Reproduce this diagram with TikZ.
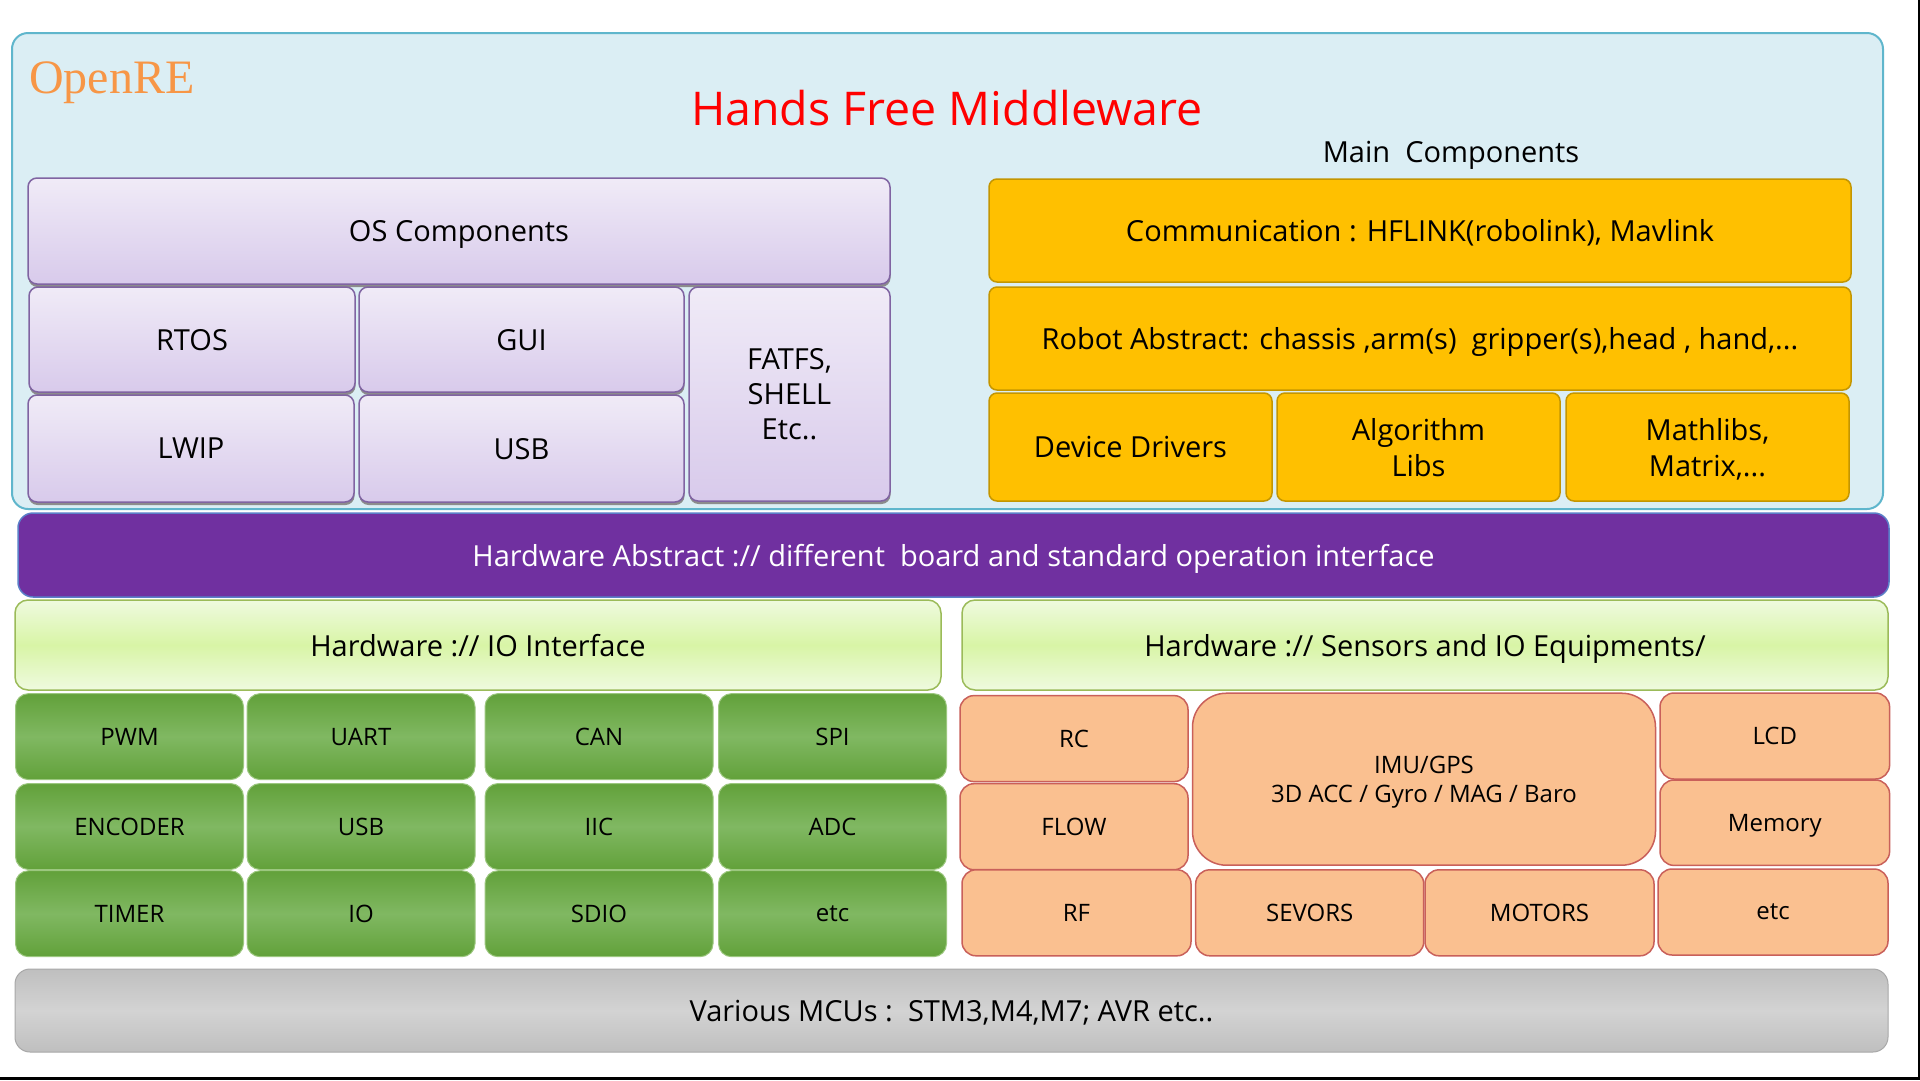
\documentclass[tikz,border=0pt]{standalone}
\usepackage{fontspec}
\setmainfont{Open Sans}
\newfontfamily\serifRE{Liberation Serif}
\usetikzlibrary{shadows}
\definecolor{mwfill}{HTML}{DBEEF4}
\definecolor{mwline}{HTML}{5FB6CC}
\definecolor{openre}{HTML}{F79646}
\definecolor{ostop}{HTML}{F0EBF7}
\definecolor{osbot}{HTML}{D8CAEB}
\definecolor{osline}{HTML}{8064A2}
\definecolor{gold}{HTML}{FFC000}
\definecolor{goldline}{HTML}{C49600}
\definecolor{hapurple}{HTML}{7030A0}
\definecolor{haline}{HTML}{5A7FC8}
\definecolor{lgedge}{HTML}{EFFADF}
\definecolor{lgmid}{HTML}{D8F5A6}
\definecolor{lgline}{HTML}{9BBB59}
\definecolor{gdark}{HTML}{62A13A}
\definecolor{glight}{HTML}{80B862}
\definecolor{gline}{HTML}{9CC77F}
\definecolor{ofill}{HTML}{FAC090}
\definecolor{oline}{HTML}{C9605A}
\definecolor{grayedge}{HTML}{BFBFBF}
\definecolor{graymid}{HTML}{D3D3D3}
\definecolor{grayline}{HTML}{A8A8A8}
\newcommand\fz[2]{\fontsize{#1}{#2}\selectfont}
\tikzset{
  blk/.style={align=center, inner sep=0pt, line width=1.5pt, text=black, text depth=0pt},
  osbox/.style={blk, rounded corners=9pt, draw=osline, top color=ostop, bottom color=osbot,
    drop shadow={shadow xshift=0.5pt, shadow yshift=-3pt, fill=black!45, opacity=1},
    font=\fz{29}{35}},
  goldbox/.style={blk, rounded corners=8pt, draw=goldline, fill=gold, font=\fz{29}{36}},
  hwhead/.style={blk, rounded corners=13pt, draw=lgline, top color=lgedge, bottom color=lgedge,
    middle color=lgmid, font=\fz{29}{35}},
  iocell/.style={blk, rounded corners=13pt, draw=gline, line width=1pt, top color=gdark,
    bottom color=gdark, middle color=glight, font=\fz{24}{29},
    minimum width=228pt, minimum height=86pt},
  sencell/.style={blk, rounded corners=14pt, draw=oline, fill=ofill, font=\fz{24}{29},
    minimum height=86pt},
}
\begin{document}
\begin{tikzpicture}[x=1pt, y=-1pt]
\useasboundingbox (0,0) rectangle (1920,1080);
\fill[white] (0,0) rectangle (1920,1080);

% middleware container
\node[draw=mwline, fill=mwfill, rounded corners=16pt, line width=2pt, inner sep=0pt,
  minimum width=1871pt, minimum height=476pt] (mw) at (947.5,271) {};
\node[anchor=base west, inner sep=0pt, text=openre, font=\serifRE\fz{48}{48}] (openre) at (29,93) {OpenRE};
\node[anchor=base, inner sep=0pt, text=red, font=\fz{46.5}{47}] (title) at (947,125.5) {Hands Free Middleware};
\node[anchor=base, inner sep=0pt, font=\fz{29}{29}] (mainc) at (1451,162) {Main\ \ Components};

% OS components
\node[osbox, minimum width=862pt, minimum height=106pt] (os) at (459,231) {OS Components};
\node[osbox, minimum width=326pt, minimum height=105pt] (rtos) at (192,339.5) {RTOS};
\node[osbox, minimum width=325pt, minimum height=105pt] (gui) at (521.5,339.5) {GUI};
\node[osbox, minimum width=326pt, minimum height=107pt] (lwip) at (191,448.5) {LWIP};
\node[osbox, minimum width=325pt, minimum height=107pt] (usbos) at (521.5,448.5) {USB};
\node[osbox, minimum width=201pt, minimum height=214pt] (fatfs) at (789.5,394) {FATFS,\\SHELL\\Etc..};

% main components
\node[goldbox, minimum width=862pt, minimum height=103pt] (comm) at (1420,230.5) {Communication : HFLINK(robolink), Mavlink};
\node[goldbox, minimum width=862pt, minimum height=103pt] (robot) at (1420,338.5) {Robot Abstract: chassis ,arm(s)\ \ gripper(s),head , hand,...};
\node[goldbox, minimum width=283pt, minimum height=108pt] (dev) at (1130.5,447) {Device Drivers};
\node[goldbox, minimum width=283pt, minimum height=108pt] (algo) at (1418.5,447) {Algorithm\\Libs};
\node[goldbox, minimum width=283pt, minimum height=108pt] (math) at (1707.5,447) {Mathlibs,\\Matrix,...};

% hardware abstract
\node[blk, rounded corners=15pt, draw=haline, fill=hapurple, text=white, font=\fz{29}{35},
  minimum width=1871pt, minimum height=84pt] (ha) at (953.5,555) {Hardware Abstract :// different\ \ board and standard operation interface};

% hardware headers
\node[hwhead, minimum width=926pt, minimum height=90pt] (io) at (478,645) {Hardware :// IO Interface};
\node[hwhead, minimum width=926pt, minimum height=90pt] (sens) at (1425,645) {Hardware :// Sensors and IO Equipments/};

% IO cells
\node[iocell] (pwm) at (129.5,736.6) {PWM};
\node[iocell] (uart) at (361,736.6) {UART};
\node[iocell] (can) at (599,736.6) {CAN};
\node[iocell] (spi) at (832.5,736.6) {SPI};
\node[iocell] (enc) at (129.5,826.5) {ENCODER};
\node[iocell] (usbio) at (361,826.5) {USB};
\node[iocell] (iic) at (599,826.5) {IIC};
\node[iocell] (adc) at (832.5,826.5) {ADC};
\node[iocell] (timer) at (129.5,913.7) {TIMER};
\node[iocell] (ioc) at (361,913.7) {IO};
\node[iocell] (sdio) at (599,913.7) {SDIO};
\node[iocell] (etcio) at (832.5,913.7) {etc};

% sensor cells
\node[sencell, minimum width=228pt] (rc) at (1074,738.6) {RC};
\node[sencell, minimum width=228pt] (flow) at (1074,826.7) {FLOW};
\node[sencell, rounded corners=34pt, minimum width=463pt, minimum height=172pt] (imu) at (1424,779.2) {IMU/GPS\\3D ACC / Gyro / MAG / Baro};
\node[sencell, minimum width=229.6pt] (lcd) at (1774.8,736) {LCD};
\node[sencell, minimum width=229.6pt, minimum height=85.4pt] (mem) at (1774.8,822.7) {Memory};
\node[sencell, minimum width=229pt] (rf) at (1076.5,912.8) {RF};
\node[sencell, minimum width=228pt] (sev) at (1309.7,912.8) {SEVORS};
\node[sencell, minimum width=229pt] (mot) at (1539.5,912.8) {MOTORS};
\node[sencell, minimum width=230pt] (etcs) at (1773,912) {etc};

% MCU bar
\node[blk, rounded corners=15pt, draw=grayline, line width=1pt, top color=grayedge, bottom color=grayedge,
  middle color=graymid, font=\fz{29}{35}, minimum width=1873pt, minimum height=83pt] (mcu) at (951.5,1010.5) {Various MCUs :\ \ STM3,M4,M7; AVR etc..};

% frame edges
\fill[black] (0,1076.5) rectangle (1920,1080);
\fill[black] (1917.5,0) rectangle (1920,1080);
\end{tikzpicture}
\end{document}
